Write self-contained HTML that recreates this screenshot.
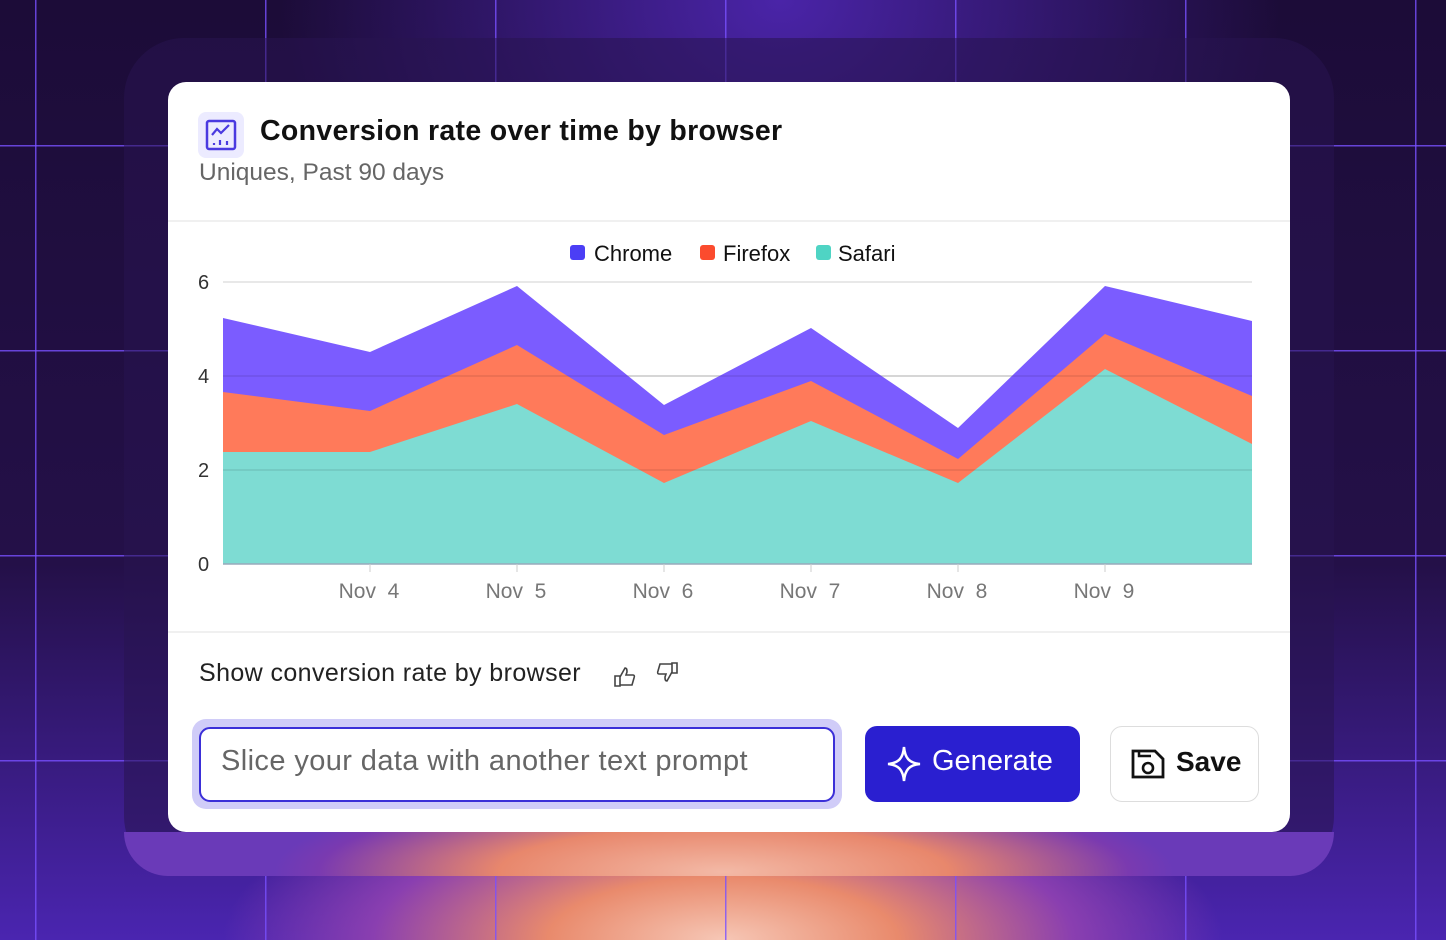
<!DOCTYPE html>
<html><head><style>
body{margin:0;width:1446px;height:940px;overflow:hidden;font-family:"Liberation Sans",sans-serif;position:relative;
background:radial-gradient(ellipse 500px 180px at 723px 940px,#f6c7b6 0%,#e98a6c 35%,#8a3fb0 70%,transparent 100%),radial-gradient(ellipse 500px 400px at 780px 0px,#4a24a8 0%,transparent 100%),linear-gradient(#1c0c38,#241048 60%,#4a25b0);}
.grid{position:absolute;inset:0;background-image:linear-gradient(90deg,rgba(120,80,255,.8) 1.5px,transparent 1.5px),linear-gradient(rgba(120,80,255,.8) 1.5px,transparent 1.5px);background-size:230px 205px;background-position:35px 145px;}
.outer{position:absolute;left:124px;top:38px;width:1210px;height:838px;border-radius:60px;background:rgba(40,20,80,.55);}
.glow{position:absolute;left:124px;top:832px;width:1210px;height:44px;border-radius:0 0 60px 60px;background:radial-gradient(ellipse 450px 90px at 600px 40px,#f3b9a6,#e8876c 50%,#7a3ab0 90%,#6a3ab8);}
.card{position:absolute;left:168px;top:82px;width:1122px;height:750px;background:#fff;border-radius:18px;}
.t{position:absolute;white-space:nowrap}
</style></head><body>
<div class="grid"></div>
<div class="outer"></div>
<div class="glow"></div>
<div class="card"></div>
<div class="t" style="left:198px;top:112px;width:46px;height:46px;background:#ecebff;border-radius:8px"></div>
<svg class="t" style="left:205px;top:119px" width="32" height="32" viewBox="0 0 32 32"><rect x="2" y="2" width="28" height="28" rx="2" fill="none" stroke="#4a3ae0" stroke-width="2.5"/><polyline points="7,16 12,10 16,14 24,6" fill="none" stroke="#4a3ae0" stroke-width="2.2"/><path d="M9 24v2M15 21v5M22 22v4" stroke="#4a3ae0" stroke-width="2.2"/></svg>
<div class="t" style="left:260px;top:115px;font-size:28.5px;font-weight:bold;color:#111;letter-spacing:0.3px">Conversion rate over time by browser</div>
<div class="t" style="left:199px;top:159px;font-size:24.5px;color:#666">Uniques, Past 90 days</div>
<div class="t" style="left:168px;top:220px;width:1122px;height:2px;background:#f0f0f0"></div>
<div class="t" style="left:168px;top:631px;width:1122px;height:2px;background:#f0f0f0"></div>
<svg class="t" style="left:0;top:0" width="1446" height="940">
<g font-family="Liberation Sans" font-size="22" fill="#111">
<rect x="570" y="245" width="15" height="15" rx="3" fill="#4b3ef5"/><text x="594" y="261">Chrome</text>
<rect x="700" y="245" width="15" height="15" rx="3" fill="#fb4b2e"/><text x="723" y="261">Firefox</text>
<rect x="816" y="245" width="15" height="15" rx="3" fill="#4fd4c4"/><text x="838" y="261">Safari</text>
</g>
<g stroke="#e0e0e0" stroke-width="1.5"><line x1="223" x2="1252" y1="282" y2="282"/><line x1="223" x2="1252" y1="376" y2="376"/><line x1="223" x2="1252" y1="470" y2="470"/></g>
<polygon fill="#7b5cff" points="223,318 370,352 517,286 664,405 811,328 958,428 1105,286 1252,321 1252,564 223,564"/>
<polygon fill="#ff7a5a" points="223,392 370,411 517,345 664,435 811,381 958,459 1105,334 1252,396 1252,564 223,564"/>
<polygon fill="#7edcd3" points="223,452 370,452 517,404 664,483 811,421 958,483 1105,369 1252,444 1252,564 223,564"/>
<g stroke="rgba(0,0,0,.12)" stroke-width="1.2"><line x1="223" x2="1252" y1="376" y2="376"/><line x1="223" x2="1252" y1="470" y2="470"/></g>
<line x1="223" x2="1252" y1="564" y2="564" stroke="#9ab" stroke-width="1.5"/>
<g stroke="#ccc"><line x1="370" x2="370" y1="564" y2="572"/><line x1="517" x2="517" y1="564" y2="572"/><line x1="664" x2="664" y1="564" y2="572"/><line x1="811" x2="811" y1="564" y2="572"/><line x1="958" x2="958" y1="564" y2="572"/><line x1="1105" x2="1105" y1="564" y2="572"/></g>
<g font-family="Liberation Sans" font-size="20" fill="#333"><text x="198" y="289">6</text><text x="198" y="383">4</text><text x="198" y="477">2</text><text x="198" y="571">0</text></g>
<g font-family="Liberation Sans" font-size="21" fill="#777" text-anchor="middle"><text x="369" y="598">Nov&#160;&#160;4</text><text x="516" y="598">Nov&#160;&#160;5</text><text x="663" y="598">Nov&#160;&#160;6</text><text x="810" y="598">Nov&#160;&#160;7</text><text x="957" y="598">Nov&#160;&#160;8</text><text x="1104" y="598">Nov&#160;&#160;9</text></g>
<g fill="none" stroke="#444" stroke-width="1.6"><path d="M615 676h5v10h-5zM620 677l5-9c2 0 2 2 2 4l-1 3h7c1 0 2 1 1 3l-2 7h-12"/><path d="M677 673h-5v-10h5zM672 672l-5 9c-2 0-2-2-2-4l1-3h-7c-1 0-2-1-1-3l2-7h12"/></g>
</svg>
<div class="t" style="left:199px;top:659px;font-size:25px;color:#222;letter-spacing:0.4px">Show conversion rate by browser</div>
<div class="t" style="left:192px;top:719px;width:650px;height:90px;border-radius:14px;background:#d0ccf8"></div>
<div class="t" style="left:199px;top:727px;width:632px;height:71px;border:2px solid #3b2fd8;border-radius:11px;background:#fff"></div>
<div class="t" style="left:221px;top:745px;font-size:29px;color:#666;letter-spacing:0.4px">Slice your data with another text prompt</div>
<div class="t" style="left:865px;top:726px;width:215px;height:76px;border-radius:12px;background:#2a1fd0"></div>
<svg class="t" style="left:884px;top:744px" width="40" height="40" viewBox="0 0 40 40"><path d="M20 3C21 14 25 19 36 20C25 21 21 26 20 37C19 26 15 21 4 20C15 19 19 14 20 3Z" fill="none" stroke="#fff" stroke-width="2.5"/></svg>
<div class="t" style="left:932px;top:745px;font-size:29px;color:#fff">Generate</div>
<div class="t" style="left:1110px;top:726px;width:147px;height:74px;border:1.5px solid #ddd;border-radius:12px;background:#fff"></div>
<svg class="t" style="left:1129px;top:745px" width="38" height="38" viewBox="0 0 38 38"><path d="M4 6h22l8 8v18H4z" fill="none" stroke="#111" stroke-width="2.8"/><circle cx="19" cy="23" r="5" fill="none" stroke="#111" stroke-width="2.6"/><path d="M10 6v5h12" fill="none" stroke="#111" stroke-width="2.5"/></svg>
<div class="t" style="left:1176px;top:746px;font-size:28px;color:#111;font-weight:bold">Save</div>
</body></html>
